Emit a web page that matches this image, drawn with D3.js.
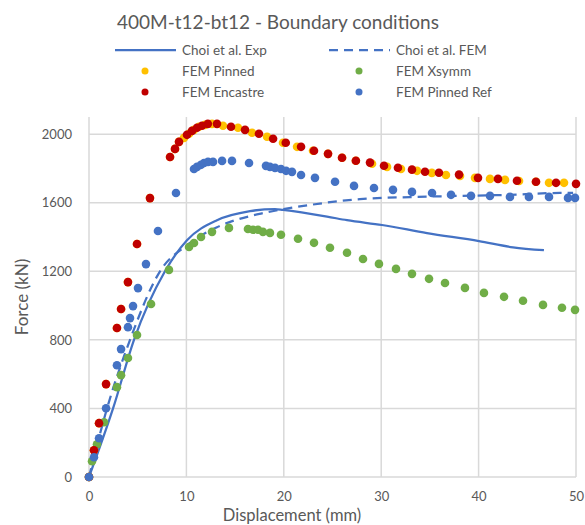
<!DOCTYPE html>
<html>
<head>
<meta charset="utf-8">
<script src="https://cdn.jsdelivr.net/npm/d3@7"></script>
<style>
  body { margin: 0; background: #fff; }
  svg text { font-family: Lato, "Open Sans", sans-serif; fill: #595959; }
</style>
</head>
<body>
<div id="chart"></div>
<script>
// Choi et al. experiment / FEM curves: [displacement mm, force kN]
const choiExp = [[0,0],[2.47,400],[4.62,800],[7.8,1200],[10.06,1381],[13.14,1498],[16.53,1551],
  [19.1,1563],[19.92,1558],[24.44,1519],[26.49,1498],[30.08,1470],[34.7,1423],[40.04,1376],
  [43.53,1340],[46.71,1323]];
const choiFem = [[0,0],[1.85,400],[4.21,800],[7.29,1200],[10.06,1352],[13.14,1457],[16.53,1522],
  [17.86,1539],[22.69,1587],[27.82,1621],[32.96,1633],[38.09,1640],[43.22,1646],[48.36,1657],[49.7,1657]];

const femPinned = [[0,0],[0.51,156],[1.03,314],[1.75,542],[2.87,869],[3.29,980],[4.0,1137],[4.93,1359],
  [6.26,1627],[8.32,1867],[8.83,1914],[9.24,1955],[9.75,1978],[10.27,2002],[10.78,2025],[11.29,2043],
  [11.91,2054],[12.63,2060],[13.76,2049],[15.3,2037],[16.74,2008],[18.28,1985],[19.92,1950],[21.36,1926],
  [23.0,1903],[24.54,1885],[25.98,1862],[27.4,1845],[29.06,1827],[30.6,1809],[32.03,1797],[33.68,1786],
  [35.2,1774],[36.65,1762],[38.09,1756],[39.63,1745],[41.17,1739],[42.71,1733],[44.15,1727],[45.89,1722],
  [47.23,1716],[48.77,1716]];

const femXsymm = [[0,0],[0.31,92],[0.82,191],[1.54,319],[2.87,524],[3.29,594],[4.0,694],[4.93,828],
  [6.37,1009],[8.21,1208],[10.27,1342],[10.78,1365],[11.5,1400],[12.63,1430],[14.37,1453],[16.32,1447],
  [16.84,1442],[17.35,1442],[17.86,1430],[18.58,1424],[19.71,1413],[21.46,1390],[23.1,1366],[24.74,1337],
  [26.49,1308],[28.13,1272],[29.77,1243],[31.52,1214],[33.16,1185],[34.91,1156],[36.55,1132],[38.6,1103],
  [40.55,1074],[42.61,1051],[44.56,1028],[46.61,1004],[48.56,987],[49.9,975]];

const femEncastre = [[0,0],[0.51,156],[1.03,314],[1.75,542],[2.87,869],[3.29,980],[4.0,1137],[4.93,1359],
  [6.26,1627],[8.32,1867],[8.83,1914],[9.24,1955],[10.06,1996],[10.57,2019],[11.09,2037],[11.6,2049],
  [12.2,2060],[13.14,2060],[14.58,2043],[16.02,2025],[17.45,2002],[18.9,1973],[20.2,1950],[21.77,1926],
  [23.1,1903],[24.54,1885],[25.98,1862],[27.4,1845],[28.85,1834],[30.29,1816],[31.72,1804],[33.16,1793],
  [34.5,1781],[35.93,1775],[37.99,1764],[39.94,1745],[41.99,1739],[43.94,1728],[45.89,1722],[47.95,1716],
  [50.0,1710]];

const femPinnedRef = [[0,0],[0.51,115],[1.03,226],[1.75,401],[2.87,652],[3.29,746],[4.0,874],[4.21,927],
  [4.52,997],[5.03,1102],[5.85,1242],[7.08,1435],[8.93,1657],[10.78,1797],[11.09,1809],[11.5,1821],
  [11.81,1832],[12.22,1838],[12.73,1838],[13.66,1844],[14.68,1844],[16.43,1832],[18.17,1815],[18.58,1809],
  [19.1,1803],[19.71,1797],[20.23,1786],[20.84,1780],[21.77,1762],[23.2,1745],[25.26,1722],[27.21,1698],
  [29.26,1686],[31.21,1675],[33.16,1663],[35.22,1657],[37.17,1646],[39.22,1640],[41.17,1640],[43.22,1634],
  [45.17,1634],[47.23,1634],[49.18,1628],[49.9,1628]];

const xTicks = [0, 10, 20, 30, 40, 50];
const yTicks = [0, 400, 800, 1200, 1600, 2000];

const W = 585, H = 525;
const margin = { top: 117, right: 9, bottom: 48, left: 89 };
const w = W - margin.left - margin.right;
const h = H - margin.top - margin.bottom;

const svg = d3.select('#chart').append('svg')
  .attr('width', W).attr('height', H);

const x = d3.scaleLinear().domain([0, 50]).range([0, w]);
const y = d3.scaleLinear().domain([0, 2100]).range([h, 0]);

const g = svg.append('g').attr('transform', `translate(${margin.left},${margin.top})`);

// Grid
g.append('g')
  .selectAll('line').data(yTicks).join('line')
  .attr('x1', 0).attr('x2', w)
  .attr('y1', d => y(d)).attr('y2', d => y(d))
  .attr('stroke', '#d9d9d9').attr('stroke-width', 1.5);
g.append('g')
  .selectAll('line').data(xTicks).join('line')
  .attr('x1', d => x(d)).attr('x2', d => x(d))
  .attr('y1', 0).attr('y2', h)
  .attr('stroke', '#d9d9d9').attr('stroke-width', 1.5);

// Axes (labels only)
const xAxis = g.append('g')
  .attr('transform', `translate(0,${h})`)
  .call(d3.axisBottom(x).tickValues(xTicks).tickSize(0).tickPadding(15).tickFormat(d3.format('d')));
const yAxis = g.append('g')
  .call(d3.axisLeft(y).tickValues(yTicks).tickSize(0).tickPadding(17).tickFormat(d3.format('d')));
[xAxis, yAxis].forEach(a => {
  a.select('.domain').remove();
  a.selectAll('text').attr('font-size', '13px').attr('fill', '#595959')
    .style('font-family', 'Lato, sans-serif');
});

// Lines
const line = d3.line().x(d => x(d[0])).y(d => y(d[1])).curve(d3.curveMonotoneX);
g.append('path').datum(choiExp).attr('d', line)
  .attr('fill', 'none').attr('stroke', '#4472C4').attr('stroke-width', 2.25);
g.append('path').datum(choiFem).attr('d', line)
  .attr('fill', 'none').attr('stroke', '#4472C4').attr('stroke-width', 2.25)
  .attr('stroke-dasharray', '9,6');

// Markers
const series = [
  { data: femPinned, color: '#FFC000' },
  { data: femXsymm, color: '#70AD47' },
  { data: femEncastre, color: '#C00000' },
  { data: femPinnedRef, color: '#4472C4' }
];
series.forEach(s => {
  g.append('g').selectAll('circle').data(s.data).join('circle')
    .attr('cx', d => x(d[0])).attr('cy', d => y(d[1]))
    .attr('r', 4.3).attr('fill', s.color);
});

// Title
svg.append('text')
  .attr('x', 278).attr('y', 29)
  .attr('text-anchor', 'middle')
  .attr('font-size', '19px')
  .text('400M-t12-bt12 - Boundary conditions');

// Legend
const legend = [
  { label: 'Choi et al. Exp', type: 'line', col: 0, row: 0 },
  { label: 'Choi et al. FEM', type: 'dash', col: 1, row: 0 },
  { label: 'FEM Pinned', type: 'dot', color: '#FFC000', col: 0, row: 1 },
  { label: 'FEM Xsymm', type: 'dot', color: '#70AD47', col: 1, row: 1 },
  { label: 'FEM Encastre', type: 'dot', color: '#C00000', col: 0, row: 2 },
  { label: 'FEM Pinned Ref', type: 'dot', color: '#4472C4', col: 1, row: 2 }
];
const lg = svg.append('g');
legend.forEach(d => {
  const lx = d.col === 0 ? 115 : 329;
  const ly = 50 + d.row * 21;
  if (d.type === 'dot') {
    lg.append('circle').attr('cx', lx + 30).attr('cy', ly).attr('r', 3.5).attr('fill', d.color);
  } else {
    lg.append('line').attr('x1', lx).attr('x2', lx + 61).attr('y1', ly).attr('y2', ly)
      .attr('stroke', '#4472C4').attr('stroke-width', 2.25)
      .attr('stroke-dasharray', d.type === 'dash' ? '9,6' : null);
  }
  lg.append('text').attr('x', lx + 67).attr('y', ly + 5)
    .attr('font-size', '13.5px').text(d.label);
});

// Axis titles
svg.append('text')
  .attr('x', 292).attr('y', 521)
  .attr('text-anchor', 'middle').attr('font-size', '16.5px')
  .text('Displacement (mm)');
svg.append('text')
  .attr('transform', 'translate(28,297) rotate(-90)')
  .attr('text-anchor', 'middle').attr('font-size', '17px')
  .text('Force (kN)');
</script>
</body>
</html>
